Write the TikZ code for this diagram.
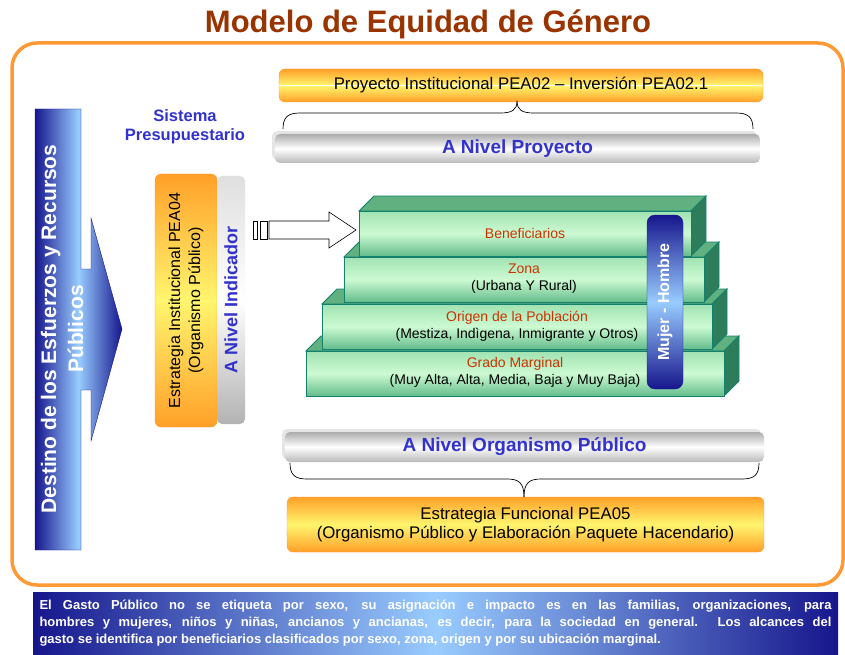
\documentclass[tikz,border=0pt]{standalone}
\usepackage{fontspec}
\setmainfont{Liberation Sans}
\usetikzlibrary{positioning,shadows,calc}
\definecolor{tituloCafe}{RGB}{153,51,0}
\definecolor{marcoNaranja}{RGB}{255,153,51}
\definecolor{barNaranja}{RGB}{255,160,40}
\definecolor{barAmarillo}{RGB}{255,245,110}
\definecolor{azulOscuro}{RGB}{22,22,140}
\definecolor{azulClaro}{RGB}{153,204,255}
\definecolor{azulTexto}{RGB}{51,51,204}
\definecolor{escTexto}{RGB}{204,51,0}
\definecolor{escBorde}{RGB}{20,128,110}
\definecolor{escArriba}{RGB}{96,176,128}
\definecolor{escLado}{RGB}{46,125,90}
\definecolor{escClaro}{RGB}{205,250,210}
\definecolor{escMedio}{RGB}{160,226,178}
\definecolor{escBajo}{RGB}{100,188,140}

\begin{document}
\begin{tikzpicture}[x=1pt, y=-1pt,
  naranja/.style={draw=marcoNaranja, rounded corners=6pt, top color=barNaranja,
                  bottom color=barNaranja, middle color=barAmarillo, align=center,
                  inner sep=0pt, font=\fontsize{16.8}{19.5}\selectfont},
  gris/.style={draw=none, rounded corners=5pt, top color=gray!65, bottom color=gray!55,
               middle color=white, inner sep=0pt, text=azulTexto,
               font=\bfseries\fontsize{19}{22}\selectfont},
  sombra/.style={general shadow={fill=gray!20, shadow xshift=-3pt, shadow yshift=3pt}},
  sexo/.style={draw=azulOscuro, rounded corners=8pt, top color=azulOscuro,
               bottom color=azulOscuro, middle color=azulClaro, text=white,
               font=\bfseries\fontsize{16}{19}\selectfont},
  cara/.style={draw=escBorde, line width=0.8pt},
  etiqueta/.style={align=center, font=\fontsize{14}{17}\selectfont},
  llave/.style={draw, line width=0.7pt},
  hueca/.style={draw, fill=white, line width=0.6pt}
]
  \useasboundingbox (0,0) rectangle (845,655);
  \fill[white] (0,0) rectangle (845,655);

  \node[text=tituloCafe, font=\bfseries\fontsize{31}{36}\selectfont] (titulo) at (428,24)
    {Modelo de Equidad de Género};
  \draw[marcoNaranja, line width=3.5pt, rounded corners=25pt] (12,43) rectangle (843,585);

  \node[naranja, minimum width=484pt, minimum height=33pt,
        path picture={\draw[white, line width=0.8pt]
          (path picture bounding box.west) -- (path picture bounding box.east);}]
    (proy) at (521,85.5) {Proyecto Institucional PEA02 – Inversión PEA02.1};
  \node[gris, sombra, minimum width=485pt, minimum height=29pt] (nproy) at (517.5,148.5)
    {A Nivel Proyecto};
  \coordinate (llA) at (283,129);
  \coordinate (llB) at (753,129);
  \coordinate (llC) at (517,101);
  \draw[llave] (llA) .. controls (283,117) and (288,113) .. (300,113) -- (500,113)
    .. controls (512,113) and (517,110) .. (llC);
  \draw[llave] (llB) .. controls (753,117) and (748,113) .. (736,113) -- (534,113)
    .. controls (522,113) and (517,110) .. (llC);

  \node[text=azulTexto, align=center, font=\bfseries\fontsize{16.5}{19}\selectfont]
    (sistema) at (185,127) {Sistema\\Presupuestario};

  \node[naranja, rotate=90, font=\fontsize{16}{20}\selectfont,
        minimum width=253pt, minimum height=62pt] (estinst) at (186,300.5)
    {Estrategia Institucional PEA04\\(Organismo Público)};
  \node[gris, rotate=90, top color=gray!25, bottom color=gray!60, middle color=white,
        font=\bfseries\fontsize{18}{21}\selectfont,
        minimum width=248pt, minimum height=28pt] (indic) at (231,300) {A Nivel Indicador};

  \draw[hueca] (253,221) rectangle (257,239) (260,221) rectangle (267,239);
  \draw[hueca] (269,221) -- (329,221) -- (329,212) -- (356,230) -- (329,248) -- (329,239)
    -- (269,239) -- cycle;

  \foreach \xa/\xb/\ya/\yb in {306/724/351/396, 322/712/304/349, 344/704/257/302, 359/691/211/256}{
    \filldraw[cara, fill=escArriba] (\xa,\ya) -- (\xa+15,\ya-15) -- (\xb+15,\ya-15) -- (\xb,\ya) -- cycle;
    \filldraw[cara, fill=escLado] (\xb,\ya) -- (\xb+15,\ya-15) -- (\xb+15,\yb-15) -- (\xb,\yb) -- cycle;
    \draw[cara, top color=escMedio, bottom color=escBajo, middle color=escClaro] (\xa,\ya) rectangle (\xb,\yb);
  }
  \node[etiqueta, text=escTexto] (benef) at (525,233) {Beneficiarios};
  \node[etiqueta] (zona) at (524,278.5) {\textcolor{escTexto}{Zona}\\(Urbana Y Rural)};
  \node[etiqueta] (origen) at (517,326.5)
    {\textcolor{escTexto}{Origen de la Población}\\(Mestiza, Indìgena, Inmigrante y Otros)};
  \node[etiqueta] (grado) at (515,372.5)
    {\textcolor{escTexto}{Grado Marginal}\\(Muy Alta, Alta, Media, Baja y Muy Baja)};
  \node[sexo, rotate=90, minimum width=174pt, minimum height=36pt] (mh) at (665,302)
    {Mujer - Hombre};

  \node[gris, sombra, minimum width=479pt, minimum height=30pt] (norg) at (524.5,447)
    {A Nivel Organismo Público};
  \node[naranja, minimum width=477pt, minimum height=55pt] (estfun) at (525.5,524.5)
    {Estrategia Funcional PEA05\\(Organismo Público y Elaboración Paquete Hacendario)};
  \coordinate (lbA) at (290,463);
  \coordinate (lbB) at (759,463);
  \coordinate (lbC) at (524,497);
  \draw[llave] (lbA) .. controls (290,475) and (295,479) .. (307,479) -- (507,479)
    .. controls (519,479) and (524,483) .. (lbC);
  \draw[llave] (lbB) .. controls (759,475) and (754,479) .. (742,479) -- (541,479)
    .. controls (529,479) and (524,483) .. (lbC);

  \draw[azulOscuro, left color=azulOscuro, right color=azulOscuro, middle color=azulClaro]
    (35,109) -- (81,109) -- (81,269) -- (91,269) -- (91,218) -- (122,329) -- (91,441)
    -- (91,390) -- (81,390) -- (81,550) -- (35,550) -- cycle;
  \node[rotate=90, text=white, align=center, font=\bfseries\fontsize{21}{27}\selectfont]
    (destino) at (62,329) {Destino de los Esfuerzos y Recursos\\Públicos};

  \node[left color=azulOscuro, right color=azulOscuro, middle color=azulClaro,
        minimum height=63pt, text width=792pt, inner xsep=6.5pt, align=justify,
        text=white, font=\bfseries\fontsize{13}{17}\selectfont] (nota) at (435.5,623.5)
    {El Gasto Público no se etiqueta por sexo, su asignación e impacto es en las familias, organizaciones, para\linebreak
     hombres y mujeres, niños y niñas, ancianos y ancianas, es decir, para la sociedad en general. Los alcances del\linebreak
     gasto se identifica por beneficiarios clasificados por sexo, zona, origen  y por su ubicación marginal.};
\end{tikzpicture}
\end{document}
